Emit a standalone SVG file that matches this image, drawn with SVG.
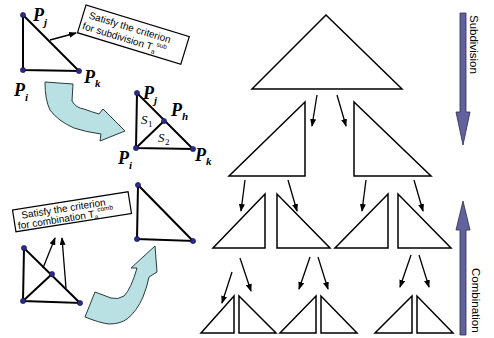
<svg xmlns="http://www.w3.org/2000/svg" width="494" height="338" viewBox="0 0 494 338">
<defs>
<marker id="ah" markerUnits="userSpaceOnUse" markerWidth="8" markerHeight="6" refX="7" refY="3" orient="auto">
<path d="M0,0 L8,3 L0,6 z" fill="#000"/>
</marker>
</defs>
<style>
.tri{fill:#fff;stroke:#000;stroke-width:1.5;stroke-linejoin:miter}
.edge{fill:none;stroke:#000;stroke-width:2}
.dot{fill:#2b2b8c;stroke:#11114a;stroke-width:0.6}
.con{fill:none;stroke:#000;stroke-width:1.3;marker-end:url(#ah)}
.P{font-family:"Liberation Serif",serif;font-style:italic;font-weight:bold;font-size:18px;fill:#000}
.sub{font-family:"Liberation Serif",serif;font-style:italic;font-weight:bold;font-size:11px;fill:#000}
.S{font-family:"Liberation Serif",serif;font-style:italic;font-size:13px;fill:#000}
.Sn{font-family:"Liberation Serif",serif;font-size:9px;fill:#000}
.box{fill:#fff;stroke:#000;stroke-width:1.2}
.bt{font-family:"Liberation Sans",Arial,sans-serif;font-size:10px;fill:#000}
.bs{font-family:"Liberation Sans",Arial,sans-serif;font-size:6.5px;fill:#000}
.curve{fill:#b9e0e2;stroke:#2a3a3a;stroke-width:1}
.big{fill:#62629c;stroke:#2a2a50;stroke-width:0.8}
.lab{font-family:"Liberation Sans",Arial,sans-serif;font-size:11.5px;fill:#000}
</style>

<!-- Left top: original triangle -->
<g id="tri-orig">
<path class="edge" d="M23,15 L23,70 L79,71 Z"/>
<circle class="dot" cx="23" cy="15" r="2.6"/>
<circle class="dot" cx="23" cy="70" r="2.6"/>
<circle class="dot" cx="79" cy="71" r="2.6"/>
<text class="P" x="33" y="21">P</text><text class="sub" x="44" y="26">j</text>
<text class="P" x="84" y="83">P</text><text class="sub" x="95" y="87">k</text>
<text class="P" x="14" y="96">P</text><text class="sub" x="25" y="101">i</text>
</g>

<g id="box-sub" transform="translate(86,5) rotate(17)">
<rect class="box" x="0" y="0" width="108" height="29"/>
<text class="bt" x="6" y="12">Satisfy  the criterion</text>
<text class="bt" x="3" y="24">for subdivision  T<tspan class="bs" dy="3">a</tspan><tspan class="bs" dy="-8">sub</tspan></text>
</g>

<!-- Subdivided triangle -->
<g id="tri-split">
<path class="edge" d="M137,93 L136,148 L193,149 Z M136,148 L164,121"/>
<circle class="dot" cx="137" cy="93" r="2.6"/>
<circle class="dot" cx="136" cy="148" r="2.6"/>
<circle class="dot" cx="193" cy="149" r="2.6"/>
<circle class="dot" cx="164" cy="121" r="2.6"/>
<text class="P" x="143" y="99">P</text><text class="sub" x="154" y="104">j</text>
<text class="P" x="171" y="116">P</text><text class="sub" x="182" y="120">h</text>
<text class="P" x="195" y="161">P</text><text class="sub" x="206" y="165">k</text>
<text class="P" x="118" y="164">P</text><text class="sub" x="129" y="169">i</text>
<text class="S" x="141" y="124">S</text><text class="Sn" x="148" y="127">1</text>
<text class="S" x="158" y="142">S</text><text class="Sn" x="165" y="145">2</text>
</g>

<!-- Bottom left: subdivided triangle with combination -->
<g id="tri-comb-src">
<path class="edge" d="M24,248 L23,301 L80,303 Z M23,301 L52,274"/>
<circle class="dot" cx="24" cy="248" r="2.6"/>
<circle class="dot" cx="23" cy="301" r="2.6"/>
<circle class="dot" cx="80" cy="303" r="2.6"/>
<circle class="dot" cx="52" cy="274" r="2.6"/>
</g>

<g id="box-comb" transform="translate(12.5,210) rotate(-9)">
<rect class="box" x="0" y="0" width="117" height="22"/>
<text class="bt" x="8" y="10">Satisfy the criterion</text>
<text class="bt" x="3" y="20">for combination T<tspan class="bs" dy="2">a</tspan><tspan class="bs" dy="-7">comb</tspan></text>
</g>

<g id="tri-comb-dst">
<path class="edge" d="M138,185 L137,239 L193,241 Z"/>
<circle class="dot" cx="138" cy="185" r="2.6"/>
<circle class="dot" cx="137" cy="239" r="2.6"/>
<circle class="dot" cx="193" cy="241" r="2.6"/>
</g>

<!-- Curved arrows -->
<g id="curve-sub">
<path class="curve" d="M45,82 L73,84 L72,101 Q76,108 84,109 Q92,112 99,114 L103,109 L125,131 L100,141 L101,134 Q86,132 74,128 Q58,121 50,110 Q45,100 45,82 Z"/>
</g>
<g id="curve-comb">
<path class="curve" d="M155,246 L131,268 L137,268 Q131,289 124,296 Q118,300 111,298 L95,292 L85,317 Q100,323 109,324 Q120,324 127,319 Q137,311 143,297 Q147,287 149,277 L157,272 Z"/>
</g>

<!-- Tree -->
<g id="t0"><path class="tri" d="M326,15 L252,89 L402,89 Z"/></g>
<g id="t1a"><path class="tri" d="M305,102 L229,176 L305,176 Z"/></g>
<g id="t1b"><path class="tri" d="M354,102 L354,176 L431,176 Z"/></g>
<g id="t2a"><path class="tri" d="M265,194 L213,248 L265,248 Z"/></g>
<g id="t2b"><path class="tri" d="M277,194 L277,248 L330,248 Z"/></g>
<g id="t2c"><path class="tri" d="M388,194 L335,248 L388,248 Z"/></g>
<g id="t2d"><path class="tri" d="M398,194 L398,248 L451,248 Z"/></g>
<g id="t3a"><path class="tri" d="M234,296 L201,333 L234,333 Z"/></g>
<g id="t3b"><path class="tri" d="M239,296 L239,333 L276,333 Z"/></g>
<g id="t3c"><path class="tri" d="M316,296 L280,333 L316,333 Z"/></g>
<g id="t3d"><path class="tri" d="M321,296 L321,333 L357,333 Z"/></g>
<g id="t3e"><path class="tri" d="M412,296 L375,333 L412,333 Z"/></g>
<g id="t3f"><path class="tri" d="M417,296 L417,333 L453,333 Z"/></g>

<g id="connectors">
<line class="con" x1="50" y1="40" x2="76" y2="33"/>
<line class="con" x1="43" y1="268" x2="55" y2="238"/>
<line class="con" x1="66" y1="288" x2="62" y2="238"/>
<line class="con" x1="317" y1="95" x2="312" y2="126"/>
<line class="con" x1="337" y1="95" x2="346" y2="126"/>
<line class="con" x1="245" y1="180" x2="241" y2="211"/>
<line class="con" x1="288" y1="180" x2="297" y2="211"/>
<line class="con" x1="366" y1="180" x2="362" y2="211"/>
<line class="con" x1="414" y1="180" x2="423" y2="211"/>
<line class="con" x1="232" y1="272" x2="222" y2="303"/>
<line class="con" x1="240" y1="258" x2="251" y2="291"/>
<line class="con" x1="310" y1="257" x2="299" y2="289"/>
<line class="con" x1="318" y1="257" x2="328" y2="289"/>
<line class="con" x1="411" y1="255" x2="400" y2="287"/>
<line class="con" x1="419" y1="255" x2="429" y2="287"/>
</g>

<!-- Side arrows -->
<g id="arrow-subdivision">
<path class="big" d="M460,13 L466,13 L466,112 L470,112 L463,145 L456,112 L460,112 Z"/>
<text class="lab" transform="translate(469.5,15) rotate(90)">Subdivision</text>
</g>
<g id="arrow-combination">
<path class="big" d="M460,335 L466,335 L466,230 L470,230 L463,201 L456,230 L460,230 Z"/>
<text class="lab" transform="translate(472,268) rotate(90)">Combination</text>
</g>
</svg>
